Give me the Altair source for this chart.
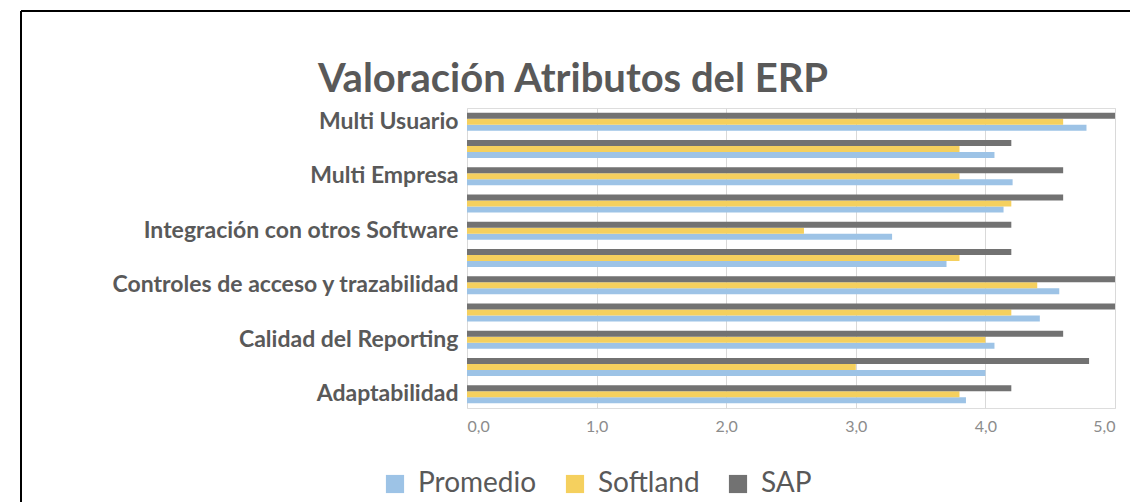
import altair as alt
import pandas as pd

# Categories, top to bottom (Excel skips every other label; hidden ones are unlabeled)
categories = [
    "Multi Usuario", "Atributo 10", "Multi Empresa", "Atributo 8",
    "Integración con otros Software", "Atributo 6",
    "Controles de acceso y trazabilidad", "Atributo 4",
    "Calidad del Reporting", "Atributo 2", "Adaptabilidad",
]
shown_labels = [
    "Multi Usuario", "Multi Empresa", "Integración con otros Software",
    "Controles de acceso y trazabilidad", "Calidad del Reporting", "Adaptabilidad",
]
series = ["Promedio", "Softland", "SAP"]
colors = ["#9DC3E6", "#F5D05E", "#727272"]
title_text = ["Valoración Atributos del ERP"]

sap = [5.0, 4.2, 4.6, 4.6, 4.2, 4.2, 5.0, 5.0, 4.6, 4.8, 4.2]
softland = [4.6, 3.8, 3.8, 4.2, 2.6, 3.8, 4.4, 4.2, 4.0, 3.0, 3.8]
promedio = [4.78, 4.07, 4.21, 4.14, 3.28, 3.7, 4.57, 4.42, 4.07, 4.0, 3.85]

rows = []
for i, c in enumerate(categories):
    rows.append({"cat": c, "serie": "Promedio", "valor": promedio[i]})
    rows.append({"cat": c, "serie": "Softland", "valor": softland[i]})
    rows.append({"cat": c, "serie": "SAP", "valor": sap[i]})
df = pd.DataFrame(rows)

FONT = "Lato"

bars = alt.Chart(df).mark_bar().encode(
    y=alt.Y(
        "cat:N", sort=categories,
        scale=alt.Scale(paddingInner=0.34, paddingOuter=0.17),
        axis=alt.Axis(
            values=shown_labels, title=None, ticks=False, domain=False,
            labelFont=FONT, labelFontSize=23, labelFontWeight="bold",
            labelColor="#595959", labelPadding=9, labelLimit=600,
        ),
    ),
    yOffset=alt.YOffset(
        "serie:N", sort=["SAP", "Softland", "Promedio"],
        scale=alt.Scale(paddingInner=0, paddingOuter=0),
    ),
    x=alt.X(
        "valor:Q",
        scale=alt.Scale(domain=[0, 5], nice=False),
        axis=alt.Axis(
            values=[0, 1, 2, 3, 4, 5], title=None, ticks=False, domain=False,
            grid=True, gridColor="#D9D9D9",
            labelExpr="replace(format(datum.value, '.1f'), '.', ',')",
            labelFont=FONT, labelFontSize=16, labelColor="#8C8C8C", labelPadding=10,
        ),
    ),
    color=alt.Color(
        "serie:N",
        scale=alt.Scale(domain=series, range=colors),
        legend=alt.Legend(
            orient="none", legendX=-86, legendY=362, direction="horizontal",
            title=None, symbolType="square", symbolSize=330, symbolStrokeWidth=0,
            labelFont=FONT, labelFontSize=28, labelColor="#595959",
            columnPadding=24, labelOffset=9,
        ),
    ),
)

title_df = pd.DataFrame({"t": title_text})
title = alt.Chart(title_df).mark_text(
    font=FONT, fontSize=40, fontWeight="bold", color="#595959",
    align="center", baseline="middle",
).encode(text="t:N", x=alt.value(106), y=alt.value(-28))

frame_df = pd.DataFrame({"k": [0]})
top_line = alt.Chart(frame_df).mark_rule(color="#000000", strokeWidth=2).encode(
    x=alt.value(-446), x2=alt.value(700), y=alt.value(-97)
)
left_line = alt.Chart(frame_df).mark_rule(color="#000000", strokeWidth=2).encode(
    x=alt.value(-446), y=alt.value(-97), y2=alt.value(500)
)

chart = alt.layer(bars, title, top_line, left_line).properties(
    width=648, height=300,
    autosize=alt.AutoSizeParams(type="none"),
    padding={"left": 459, "top": 100, "right": 15, "bottom": 94},
).configure_view(stroke=None).configure(background="white")

chart.save("out.html", embed_options={"renderer": "svg", "actions": False})
